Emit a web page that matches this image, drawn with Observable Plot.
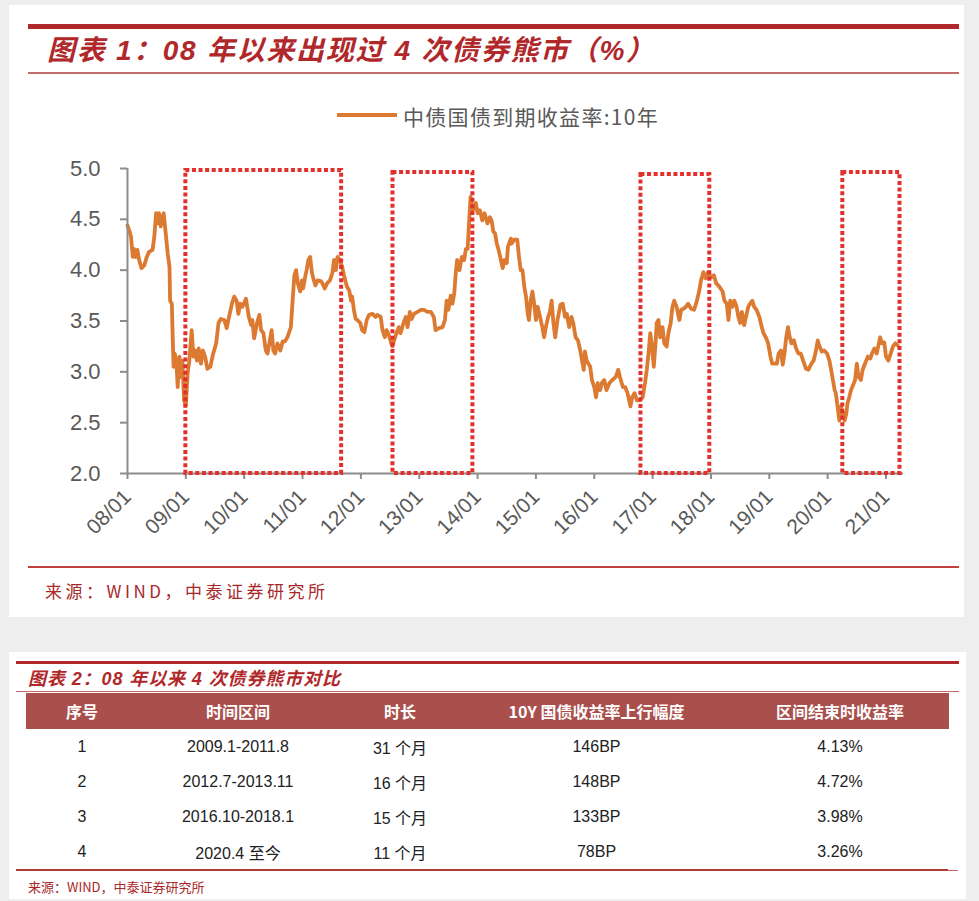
<!DOCTYPE html>
<html>
<head>
<meta charset="utf-8">
<script src="https://cdn.jsdelivr.net/npm/d3@7"></script>
<script src="https://cdn.jsdelivr.net/npm/@observablehq/plot@0.6"></script>
<style>
  html, body { margin: 0; padding: 0; }
  body { width: 979px; height: 901px; background: #eeeeee; position: relative; overflow: hidden;
         font-family: "Liberation Sans", Arial, "Noto Sans CJK SC", sans-serif; }
  .abs { position: absolute; }
  .card { background: #ffffff; }
  .title { color: #b0282a; font-weight: bold; font-style: italic; white-space: nowrap;
           font-family: "Liberation Sans", "Noto Sans CJK SC", sans-serif; }
  .src { color: #a8282a; white-space: nowrap; font-family: "Noto Sans CJK SC", sans-serif; }
  #chart svg { overflow: visible; }
  table { border-collapse: collapse; table-layout: fixed; }
  th { background: #a9504d; color: #fff; font-weight: bold; font-size: 16px; height: 36px; padding: 0;
       font-family: "Noto Sans CJK SC", sans-serif; }
  td { height: 35px; padding: 0; text-align: center; font-size: 16px; color: #222;
       font-family: "Liberation Sans", "Noto Sans CJK SC", sans-serif; }
</style>
</head>
<body>
<div class="abs card" style="left:9px;top:5px;width:955px;height:612px;"></div>
<div class="abs" style="left:28px;top:24px;width:931px;height:5px;background:#b0282a;"></div>
<div class="abs title" id="title1" style="left:47px;top:34px;height:34px;line-height:34px;font-size:28px;letter-spacing:1.7px;"></div>
<div class="abs" style="left:28px;top:72px;width:931px;height:2px;background:#c46a6a;"></div>
<div class="abs" style="left:337px;top:113px;width:60px;height:4px;background:#dc7a32;"></div>
<div class="abs" id="legend" style="left:403px;top:102px;height:28px;line-height:28px;font-size:21px;letter-spacing:1.3px;color:#595959;font-family:'Noto Sans CJK SC',sans-serif;white-space:nowrap;"></div>
<div class="abs" id="chart" style="left:0px;top:150px;"></div>
<div class="abs" style="left:28px;top:566px;width:931px;height:2px;background:#c0403d;"></div>
<div class="abs src" id="source1" style="left:45px;top:578px;height:26px;line-height:26px;font-size:17px;letter-spacing:3.5px;"></div>

<div class="abs card" style="left:9px;top:652px;width:957px;height:247px;"></div>
<div class="abs" style="left:16px;top:661px;width:943px;height:3px;background:#b0282a;"></div>
<div class="abs title" id="title2" style="left:28px;top:667px;height:24px;line-height:24px;font-size:18px;letter-spacing:0.9px;"></div>
<div class="abs" style="left:16px;top:691px;width:943px;height:1px;background:#c46a6a;"></div>
<div class="abs" id="tablewrap" style="left:26px;top:693px;"></div>
<div class="abs" style="left:16px;top:870px;width:942px;height:1px;background:#c06060;"></div>
<div class="abs" style="left:16px;top:869px;width:932px;height:2px;background:#b03a38;"></div>
<div class="abs src" id="source2" style="left:28px;top:878px;height:18px;line-height:18px;font-size:13px;letter-spacing:0px;"></div>

<script>
// ---------- texts ----------
const title1Text = "图表 1：08 年以来出现过 4 次债券熊市（%）";
const legendText = "中债国债到期收益率:10年";
const sourceText = "来源：WIND，中泰证券研究所";
const title2Text = "图表 2：08 年以来 4 次债券熊市对比";

// ---------- series: decimal year, 10Y CGB yield (%) ----------
const dates = [
2008.00,2008.03,2008.06,2008.09,2008.11,2008.14,2008.17,2008.20,2008.24,2008.29,2008.33,2008.37,2008.43,2008.46,2008.49,2008.52,2008.54,2008.57,2008.62,2008.65,
2008.69,2008.72,2008.73,2008.76,2008.77,2008.79,2008.81,2008.84,2008.86,2008.89,2008.92,2008.94,2008.97,2009.00,2009.03,2009.06,2009.10,2009.13,2009.16,2009.19,
2009.22,2009.26,2009.29,2009.33,2009.37,2009.42,2009.46,2009.52,2009.56,2009.60,2009.66,2009.70,2009.74,2009.79,2009.83,2009.87,2009.90,2009.93,2009.97,2010.03,
2010.08,2010.12,2010.14,2010.17,2010.22,2010.26,2010.29,2010.33,2010.37,2010.40,2010.44,2010.47,2010.50,2010.53,2010.57,2010.62,2010.66,2010.70,2010.74,2010.80,
2010.83,2010.86,2010.89,2010.92,2010.96,2010.99,2011.01,2011.05,2011.07,2011.10,2011.13,2011.16,2011.18,2011.22,2011.26,2011.32,
2011.34,2011.38,2011.42,2011.47,2011.51,2011.54,2011.57,2011.60,2011.64,2011.68,2011.71,2011.76,2011.80,2011.83,2011.85,2011.88,2011.91,2011.94,2011.99,2012.02,
2012.06,2012.10,2012.14,2012.20,2012.25,2012.28,2012.34,2012.37,2012.41,2012.44,2012.48,2012.51,2012.54,2012.57,2012.61,2012.65,2012.68,2012.73,2012.77,2012.80,
2012.84,2012.87,2012.91,2012.97,2013.03,2013.08,2013.14,2013.20,2013.25,2013.28,2013.34,2013.40,2013.44,2013.47,2013.50,2013.54,2013.57,2013.60,2013.63,2013.65,
2013.69,2013.73,2013.77,2013.80,2013.83,2013.85,2013.88,2013.92,2013.97,2014.00,2014.04,2014.08,2014.12,2014.17,2014.21,2014.24,2014.27,2014.30,2014.33,2014.36,
2014.40,2014.43,2014.46,2014.50,2014.52,2014.57,
2014.58,2014.63,2014.68,2014.71,2014.74,2014.77,2014.80,2014.83,2014.86,2014.88,2014.91,2014.94,2014.97,2015.00,2015.03,2015.07,2015.11,2015.14,2015.17,2015.21,
2015.24,2015.27,2015.30,2015.33,2015.37,2015.42,2015.46,2015.50,2015.53,2015.57,2015.61,2015.64,2015.68,2015.72,2015.76,2015.79,2015.82,2015.84,2015.87,2015.90,
2015.93,2015.96,2016.00,2016.03,2016.06,2016.10,2016.13,2016.17,2016.21,2016.26,2016.31,2016.37,2016.41,2016.44,2016.49,2016.53,2016.57,2016.62,2016.65,2016.69,
2016.73,2016.77,2016.83,2016.87,2016.90,2016.93,2016.96,2016.99,2017.02,2017.05,2017.07,2017.10,2017.13,2017.17,2017.20,2017.24,2017.27,2017.31,2017.34,2017.37,
2017.41,2017.46,2017.49,2017.53,2017.57,2017.61,2017.66,
2017.71,2017.76,2017.80,2017.83,2017.87,2017.91,2017.95,2018.00,2018.05,2018.09,2018.14,2018.20,2018.23,2018.27,2018.30,2018.33,2018.37,2018.40,2018.44,2018.47,
2018.50,2018.53,2018.57,2018.60,2018.64,2018.67,2018.71,2018.74,2018.78,2018.83,2018.87,2018.90,2018.94,2018.98,2019.02,2019.05,2019.09,2019.13,2019.16,2019.20,
2019.23,2019.26,2019.29,2019.32,2019.35,2019.38,2019.42,2019.46,2019.50,2019.54,2019.58,2019.63,2019.67,2019.72,2019.76,2019.80,2019.83,2019.86,2019.90,2019.94,
2019.99,2020.03,2020.06,2020.09,2020.12,2020.14,2020.17,2020.20,2020.23,2020.26,2020.29,2020.32,2020.34,2020.37,2020.40,2020.45,2020.47,2020.50,2020.53,2020.57,
2020.60,2020.64,2020.69,2020.73,2020.76,2020.80,2020.84,2020.87,2020.90,2020.93,2020.97,2021.00,2021.04,2021.08,2021.12,2021.16,2021.20
];
const yields = [
4.44,4.39,4.33,4.13,4.21,4.13,4.20,4.10,4.02,4.05,4.13,4.18,4.20,4.33,4.56,4.46,4.56,4.43,4.56,4.39,
4.16,4.03,3.70,3.67,3.44,3.05,3.18,3.08,2.85,3.15,2.95,3.11,2.72,2.67,2.98,3.11,3.41,3.15,3.21,3.11,
3.23,3.08,3.21,3.15,3.03,3.05,3.16,3.28,3.48,3.52,3.51,3.43,3.54,3.67,3.74,3.70,3.57,3.67,3.64,3.72,
3.54,3.46,3.51,3.33,3.48,3.56,3.41,3.38,3.21,3.18,3.31,3.41,3.21,3.18,3.28,3.21,3.30,3.30,3.34,3.44,
3.70,3.95,4.00,3.87,3.79,3.90,3.82,3.95,4.00,4.10,4.13,3.98,3.93,3.85,3.90,3.89,
3.87,3.82,3.87,3.90,3.97,4.10,4.00,4.13,4.10,4.03,3.95,3.84,3.80,3.70,3.74,3.61,3.52,3.51,3.48,3.41,
3.39,3.51,3.56,3.57,3.54,3.56,3.54,3.41,3.34,3.41,3.36,3.30,3.25,3.31,3.38,3.44,3.38,3.48,3.54,3.44,
3.59,3.52,3.57,3.59,3.61,3.61,3.59,3.59,3.54,3.41,3.43,3.44,3.51,3.70,3.61,3.75,3.67,3.77,4.00,4.10,
4.00,4.13,4.10,4.21,4.21,4.43,4.72,4.59,4.66,4.56,4.59,4.49,4.56,4.46,4.52,4.49,4.38,4.36,4.26,4.20,
4.10,4.02,4.10,4.07,4.23,4.31,
4.26,4.30,4.30,4.13,4.00,4.00,3.84,3.74,3.57,3.51,3.70,3.79,3.67,3.51,3.64,3.54,3.44,3.34,3.44,3.54,
3.59,3.70,3.48,3.34,3.51,3.66,3.67,3.54,3.57,3.44,3.54,3.48,3.34,3.31,3.21,3.11,3.02,3.20,3.11,3.08,
3.05,2.92,2.85,2.75,2.89,2.82,2.89,2.92,2.82,2.89,2.92,2.95,3.02,2.95,2.85,2.85,2.79,2.66,2.75,2.79,
2.72,2.72,2.75,2.89,3.02,3.18,3.38,3.25,3.05,3.28,3.48,3.51,3.34,3.44,3.28,3.25,3.38,3.48,3.64,3.70,
3.64,3.51,3.61,3.62,3.64,3.67,3.62,
3.61,3.70,3.80,3.90,3.98,3.92,3.98,3.93,3.95,3.87,3.84,3.79,3.70,3.67,3.51,3.70,3.64,3.70,3.64,3.54,
3.48,3.59,3.46,3.54,3.64,3.67,3.70,3.64,3.61,3.54,3.44,3.38,3.34,3.28,3.15,3.08,3.08,3.08,3.18,3.21,
3.07,3.18,3.34,3.44,3.34,3.28,3.31,3.23,3.18,3.18,3.11,3.03,3.02,3.08,3.11,3.21,3.31,3.25,3.20,3.21,
3.18,3.11,3.02,2.92,2.82,2.79,2.66,2.52,2.66,2.59,2.52,2.59,2.69,2.75,2.82,2.89,2.92,3.08,2.95,2.92,
3.02,3.08,3.15,3.13,3.18,3.23,3.18,3.26,3.34,3.28,3.29,3.15,3.11,3.18,3.25,3.28,3.26
];

// ---------- axes ----------
const xTickYears = [2008,2009,2010,2011,2012,2013,2014,2015,2016,2017,2018,2019,2020,2021];
const xTickLabels = ["08/01","09/01","10/01","11/01","12/01","13/01","14/01","15/01","16/01","17/01","18/01","19/01","20/01","21/01"];
const yTicks = [2.0,2.5,3.0,3.5,4.0,4.5,5.0];

// ---------- bear-market boxes ----------
const boxStart = [2009.00, 2012.55, 2016.80, 2020.26];
const boxEnd   = [2011.67, 2013.92, 2017.98, 2021.24];
const boxLow   = [2.0, 2.0, 2.0, 2.0];
const boxHigh  = [4.98, 4.96, 4.94, 4.96];

// ---------- table ----------
const tableHeaders = ["序号","时间区间","时长","10Y 国债收益率上行幅度","区间结束时收益率"];
const seqNo      = ["1","2","3","4"];
const periods    = ["2009.1-2011.8","2012.7-2013.11","2016.10-2018.1","2020.4 至今"];
const durations  = ["31 个月","16 个月","15 个月","11 个月"];
const rises      = ["146BP","148BP","133BP","78BP"];
const endYields  = ["4.13%","4.72%","3.98%","3.26%"];

document.getElementById("title1").textContent = title1Text;
document.getElementById("legend").textContent = legendText;
document.getElementById("source1").textContent = sourceText;
document.getElementById("title2").textContent = title2Text;
document.getElementById("source2").textContent = sourceText;

const series = dates.map((t, i) => ({t, v: yields[i]}));
const boxes = boxStart.map((s, i) => ({x1: s, x2: boxEnd[i], y1: boxLow[i], y2: boxHigh[i]}));

const chart = Plot.plot({
  width: 979,
  height: 400,
  marginLeft: 127,
  marginRight: 76,
  marginTop: 18,
  marginBottom: 77,
  style: {background: "transparent", fontFamily: "'Liberation Sans', Arial, sans-serif", overflow: "visible"},
  x: {domain: [2008, 2021.3]},
  y: {domain: [2, 5]},
  marks: [
    Plot.line(series, {x: "t", y: "v", stroke: "#dc7a32", strokeWidth: 3.8, strokeLinejoin: "round"}),
    Plot.ruleY([2], {stroke: "#8c8c8c", strokeWidth: 2}),
    Plot.ruleX([2008], {y1: 2, y2: 5, stroke: "#8c8c8c", strokeWidth: 2}),
    Plot.axisY({ticks: yTicks, tickFormat: d => d.toFixed(1), tickSize: 7, tickPadding: 20,
                fontSize: 22, fill: "#595959", stroke: "#8c8c8c", strokeWidth: 2}),
    Plot.axisX({ticks: xTickYears, tickFormat: d => xTickLabels[xTickYears.indexOf(d)], tickRotate: -45,
                tickSize: 6, tickPadding: 14, fontSize: 21, fill: "#595959", stroke: "#8c8c8c", strokeWidth: 2}),
    Plot.rect(boxes, {x1: "x1", x2: "x2", y1: "y1", y2: "y2", fill: "none", stroke: "#e3302c",
                      strokeWidth: 4, strokeDasharray: "4,2.6"})
  ]
});
document.getElementById("chart").appendChild(chart);

// table built from the arrays
const colWidths = [112, 200, 124, 269, 218];
const table = document.createElement("table");
table.style.width = "923px";
const cg = document.createElement("colgroup");
colWidths.forEach(w => { const c = document.createElement("col"); c.style.width = w + "px"; cg.appendChild(c); });
table.appendChild(cg);
const hr = document.createElement("tr");
tableHeaders.forEach(h => { const th = document.createElement("th"); th.textContent = h; hr.appendChild(th); });
table.appendChild(hr);
seqNo.forEach((s, i) => {
  const tr = document.createElement("tr");
  [s, periods[i], durations[i], rises[i], endYields[i]].forEach(v => {
    const td = document.createElement("td"); td.textContent = v; tr.appendChild(td);
  });
  table.appendChild(tr);
});
document.getElementById("tablewrap").appendChild(table);
</script>
</body>
</html>
